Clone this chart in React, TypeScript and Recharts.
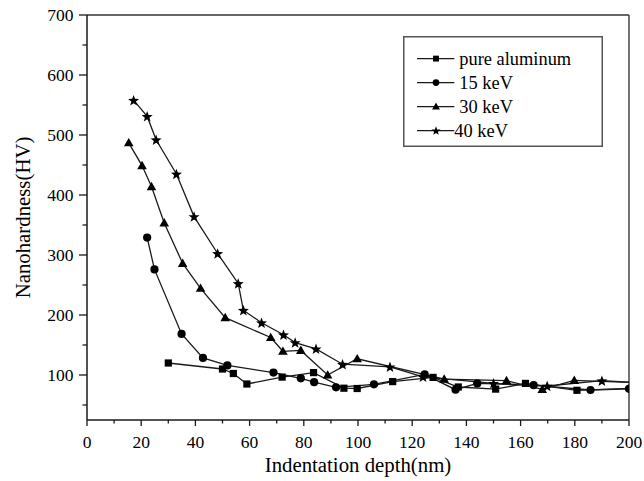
import React from 'react';
import { LineChart, Line, XAxis, YAxis, Legend, ReferenceLine, Label } from 'recharts';

// ---- data ----
const pureX = [30, 50, 54, 59, 72, 83.6, 94.8, 99.7, 112.8, 127.7, 137, 150.8, 161.8, 180.8, 201];
const pureY = [120, 110, 102.5, 85, 96.5, 104, 78, 77.5, 89, 96, 80, 76.5, 86, 74.5, 78];

const kev15X = [22.2, 24.9, 34.9, 42.8, 51.8, 68.8, 78.9, 83.8, 91.9, 105.9, 124.6, 136, 144, 164.8, 185.8, 200];
const kev15Y = [329, 276, 168.5, 128.5, 116, 104, 94.5, 88, 79.5, 84.5, 101, 75.5, 86, 83, 75, 77];

const kev30X = [15.4, 20.3, 23.8, 28.5, 35.3, 41.9, 51.0, 67.8, 72.3, 78.9, 88.8, 99.7, 131.8, 154.8, 168, 179.8, 204];
const kev30Y = [487, 449, 414, 353.5, 286, 244.5, 195.5, 162.5, 139.5, 141, 100, 127, 93, 90.5, 76, 91, 87];

const kev40X = [17.2, 22.2, 25.5, 33.0, 39.5, 48.2, 55.8, 57.7, 64.4, 72.5, 76.8, 84.5, 94.3, 111.8, 124, 150, 169.8, 190, 204];
const kev40Y = [558, 531, 492, 435, 364, 302.5, 252.5, 208, 187, 167, 154, 143.5, 118, 113.5, 97, 86, 81.7, 90.5, 87];

const seriesNames = ['pure aluminum', '15 keV', '30 keV', '40 keV'];
const seriesShapes = ['square', 'circle', 'triangle', 'star'];

const xTicks = [0, 10, 20, 30, 40, 50, 60, 70, 80, 90, 100, 110, 120, 130, 140, 150, 160, 170, 180, 190, 200];
const xMajor = [0, 20, 40, 60, 80, 100, 120, 140, 160, 180, 200];
const yTicks = [50, 100, 150, 200, 250, 300, 350, 400, 450, 500, 550, 600, 650, 700];
const yMajor = [100, 200, 300, 400, 500, 600, 700];

const toPoints = (xs: number[], ys: number[]) => xs.map((x, i) => ({ x, y: ys[i] }));
const pureData = toPoints(pureX, pureY);
const kev15Data = toPoints(kev15X, kev15Y);
const kev30Data = toPoints(kev30X, kev30Y);
const kev40Data = toPoints(kev40X, kev40Y);

const FONT = '"Liberation Serif", "Times New Roman", Times, serif';
const INK = '#000';
const LINE = '#1a1a1a';

function starPath(cx: number, cy: number, R: number) {
  const r = R * 0.42;
  let d = '';
  for (let i = 0; i < 10; i++) {
    const rad = i % 2 === 0 ? R : r;
    const a = -Math.PI / 2 + (i * Math.PI) / 5;
    const px = cx + rad * Math.cos(a);
    const py = cy + rad * Math.sin(a);
    d += (i === 0 ? 'M' : 'L') + px.toFixed(2) + ' ' + py.toFixed(2);
  }
  return d + 'Z';
}

function Marker({ shape, cx, cy, s = 1 }: { shape: string; cx: number; cy: number; s?: number }) {
  if (shape === 'square') {
    const h = 3.6 * s;
    return <rect x={cx - h} y={cy - h} width={2 * h} height={2 * h} fill={INK} />;
  }
  if (shape === 'circle') {
    return <circle cx={cx} cy={cy} r={4.1 * s} fill={INK} />;
  }
  if (shape === 'triangle') {
    const w = 4.8 * s;
    const h = 8.4 * s;
    return (
      <path
        d={`M${cx} ${cy - h * 0.58}L${cx + w} ${cy + h * 0.42}L${cx - w} ${cy + h * 0.42}Z`}
        fill={INK}
      />
    );
  }
  return <path d={starPath(cx, cy + 0.5 * s, 5.8 * s)} fill={INK} />;
}

const makeDot = (shape: string) => (props: any) => {
  const { cx, cy, index } = props;
  if (cx == null || cy == null || isNaN(cx) || isNaN(cy)) return <g key={`${shape}-${index}`} />;
  return (
    <g key={`${shape}-${index}`}>
      <Marker shape={shape} cx={cx} cy={cy} />
    </g>
  );
};

const XTick = (props: any) => {
  const { x, y, payload } = props;
  const v = payload.value;
  const major = xMajor.includes(v);
  return (
    <g>
      <line x1={x} y1={y} x2={x} y2={y + (major ? 6 : 3.5)} stroke={LINE} strokeWidth={1.3} />
      {major && (
        <text x={x} y={y + 28} textAnchor="middle" fontFamily={FONT} fontSize={17.5} fill={INK} style={{ fill: INK }}>
          {v}
        </text>
      )}
    </g>
  );
};

const YTick = (props: any) => {
  const { x, y, payload } = props;
  const v = payload.value;
  const major = yMajor.includes(v);
  return (
    <g>
      <line x1={x - (major ? 8 : 4.5)} y1={y} x2={x} y2={y} stroke={LINE} strokeWidth={1.3} />
      {major && (
        <text x={x - 13.5} y={y} dy="0.35em" textAnchor="end" fontFamily={FONT} fontSize={17.5} fill={INK} style={{ fill: INK }}>
          {v}
        </text>
      )}
    </g>
  );
};

const LegendBox = () => {
  const rows = seriesNames.map((name, i) => {
    const cy = 22.6 + i * 24;
    const textX = seriesShapes[i] === 'star' ? 51.3 : 56.3;
    return (
      <g key={name}>
        <line x1={14} y1={cy} x2={51.3} y2={cy} stroke={LINE} strokeWidth={1.3} />
        <Marker shape={seriesShapes[i]} cx={33} cy={cy} s={0.82} />
        <text x={textX} y={cy + 6.2} fontFamily={FONT} fontSize={18.4} fill={INK}>
          {name}
        </text>
      </g>
    );
  });
  return (
    <svg width={200} height={111} style={{ display: 'block' }}>
      <rect x={0.75} y={0.75} width={198.5} height={109.5} fill="#fff" stroke="#555" strokeWidth={1.5} />
      {rows}
    </svg>
  );
};

export default function App() {
  return (
    <div style={{ position: 'absolute', left: 0, top: 0, width: 644, height: 481, background: '#fff' }}>
      <LineChart
        width={644}
        height={481}
        margin={{ top: 15, right: 15, bottom: 0, left: 0 }}
        style={{ fontFamily: FONT }}
      >
        <XAxis
          type="number"
          dataKey="x"
          domain={[0, 200]}
          ticks={xTicks}
          interval={0}
          allowDataOverflow
          height={61}
          tickSize={0}
          tickMargin={0}
          tickLine={false}
          tick={<XTick />}
          axisLine={{ stroke: LINE, strokeWidth: 1.5 }}
        >
          <Label
            content={(p: any) => {
              const vb = p.viewBox || { x: 87, y: 420, width: 542 };
              return (
                <text
                  x={vb.x + vb.width / 2}
                  y={vb.y + 52}
                  textAnchor="middle"
                  fontFamily={FONT}
                  fontSize={20.8}
                  fill={INK}
                >
                  Indentation depth(nm)
                </text>
              );
            }}
          />
        </XAxis>
        <YAxis
          type="number"
          dataKey="y"
          domain={[25, 700]}
          ticks={yTicks}
          interval={0}
          allowDataOverflow
          width={87}
          tickSize={0}
          tickMargin={0}
          tickLine={false}
          tick={<YTick />}
          axisLine={{ stroke: LINE, strokeWidth: 1.5 }}
        >
          <Label
            content={(p: any) => {
              const vb = p.viewBox || { x: 0, y: 15, height: 405 };
              const cy = vb.y + vb.height / 2;
              return (
                <text
                  x={23}
                  y={cy}
                  dy="0.35em"
                  transform={`rotate(-90, 23, ${cy})`}
                  textAnchor="middle"
                  fontFamily={FONT}
                  fontSize={20.8}
                  fill={INK}
                >
                  Nanohardness(HV)
                </text>
              );
            }}
          />
        </YAxis>
        <ReferenceLine y={700} stroke="#333" strokeWidth={1.5} />
        <ReferenceLine x={200} stroke="#444" strokeWidth={1.5} />
        <Line data={pureData} dataKey="y" name={seriesNames[0]} stroke={LINE} strokeWidth={1.3} dot={makeDot('square')} activeDot={false} isAnimationActive={false} />
        <Line data={kev15Data} dataKey="y" name={seriesNames[1]} stroke={LINE} strokeWidth={1.3} dot={makeDot('circle')} activeDot={false} isAnimationActive={false} />
        <Line data={kev30Data} dataKey="y" name={seriesNames[2]} stroke={LINE} strokeWidth={1.3} dot={makeDot('triangle')} activeDot={false} isAnimationActive={false} />
        <Line data={kev40Data} dataKey="y" name={seriesNames[3]} stroke={LINE} strokeWidth={1.3} dot={makeDot('star')} activeDot={false} isAnimationActive={false} />
        <Legend
          layout="vertical"
          align="center"
          verticalAlign="middle"
          content={() => <LegendBox />}
          wrapperStyle={{ position: 'absolute', left: 403, top: 36, width: 200, height: 111 }}
        />
      </LineChart>
    </div>
  );
}
